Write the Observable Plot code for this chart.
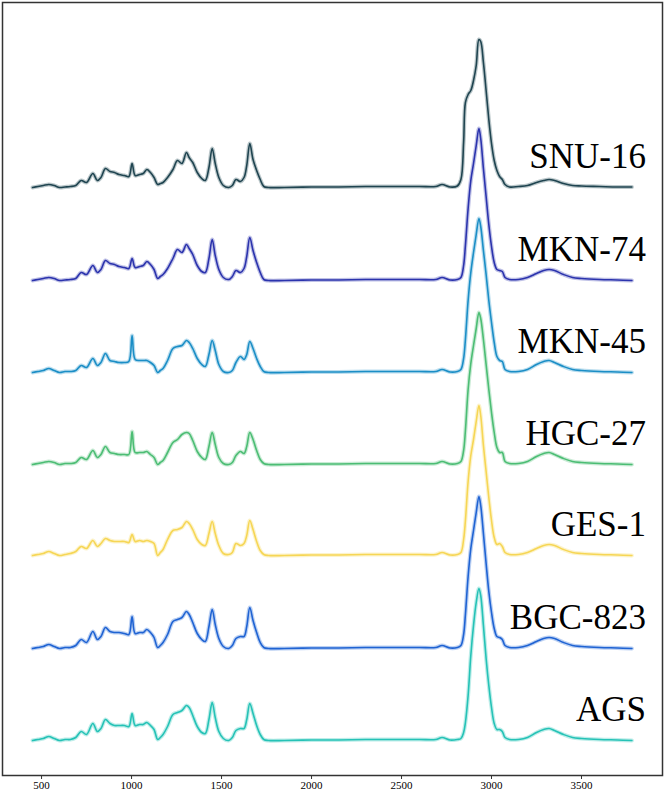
<!DOCTYPE html>
<html>
<head>
<meta charset="utf-8">
<script src="https://cdn.jsdelivr.net/npm/d3@7"></script>
<script src="https://cdn.jsdelivr.net/npm/@observablehq/plot@0.6"></script>
<style>
  html, body { margin: 0; padding: 0; background: #fff; }
  #chart svg { display: block; }
</style>
</head>
<body>
<div id="chart"></div>
<script>
// Raman shift grid (cm^-1)
const wavenumbers = [450,480,510,540,570,600,630,660,690,720,750,785,810,830,855,880,905,930,960,985,1003,1020,1045,1065,1085,1105,1125,1145,1160,1175,1200,1230,1255,1280,1305,1320,1340,1365,1390,1410,1430,1448,1465,1485,1510,1540,1560,1580,1605,1625,1640,1657,1675,1695,1715,1735,1760,1850,2000,2150,2300,2450,2600,2690,2725,2770,2810,2830,2845,2855,2870,2885,2900,2915,2930,2940,2955,2970,2985,3000,3015,3030,3045,3060,3075,3100,3150,3200,3250,3290,3320,3350,3400,3450,3500,3600,3700,3780];

const cellLines = ["SNU-16","MKN-74","MKN-45","HGC-27","GES-1","BGC-823","AGS"];
const colors    = ["#1f4450","#2b33ad","#1b8ec6","#4cbd74","#f6d655","#1f63d3","#25c2b6"];
const offsets   = [553, 460, 368, 276, 185, 92, 0];

const snu16 = [0,1,2,3,2,0,0.5,1,2,7,5,14,7,10,19,16,15,13,12,11,24,12,13,14,18,15,10,3,4,5,10,18,27,24,35,30,25,15,9,7,20,39,24,10,2,0,2,8,6,10,22,44,28,17,8,1,0,0,0.5,0.5,1,1,1,1,3,0.5,1.5,8,45,85,93,97,107,122,148,146,125,97,68,44,27,17,11,8,3,0.5,1,2,5,7,8,7,4,2,1.5,1,0.5,0.5];
const mkn74 = [0,1,2,3,2,0,0.5,1,2,8,6,15,8,11,20,17,16,14,13,12,22,13,14,15,19,16,11,2,4,6,12,22,31,28,36,32,26,15,9,8,22,41,25,11,3,1,4,10,8,12,24,43,30,18,8,1,0,0,0.5,0.5,1,1,1,1,3,0.5,1,3,15,35,72,100,117,135,152,142,112,84,56,34,18,11,10,9,3,1,1,3,7,10,11,10,6,3,2,1,0.5,0];
const mkn45 = [0,1,2,4,2,0,1,1,2,7,5,14,7,10,19,12,11,10,10,11,37,13,12,12,12,10,7,0,2,4,12,24,26,27,32,30,24,14,8,6,18,32,22,8,1,0,2,10,16,13,18,31,24,14,6,1,0,0,0.5,0.5,1,1,1,1,3,0.5,1,3,14,33,72,100,120,138,154,146,122,98,72,50,30,16,12,11,3,1,1,3,8,11,12,10,6,3,2,1,0.5,0];
const hgc27 = [0,1,2,3,2,0,1,1,2,7,5,14,7,10,18,12,11,10,10,10,33,12,12,12,13,10,7,0,2,4,12,22,25,30,32,31,24,13,7,5,18,32,20,7,1,0,2,9,13,11,18,32,25,14,5,1,0,0,0.5,0.5,1,1,1,1,3,0.5,1,3,14,34,75,101,119,136,152,146,125,100,75,52,32,17,12,12,3,1,1,3,8,11,12,10,6,3,2,1,0.5,0];
const ges1  = [0,1,2,4,2,0,1,2,4,9,7,15,9,12,17,15,14,14,14,13,21,14,15,14,15,14,12,0,3,6,16,25,26,28,34,32,26,16,11,10,22,34,22,10,2,1,3,12,10,12,20,35,26,14,5,1,0,0,0.5,0.5,1,1,1,1,3,0.5,1,3,16,35,74,100,116,134,150,140,110,84,58,35,18,11,12,9,3,1,1,3,7,10,11,10,6,3,2,1,0.5,0];
const bgc823= [0,1,2,4,2,0,1,1,3,9,6,17,9,12,21,17,16,16,15,14,32,15,16,16,19,16,11,1,3,6,14,27,29,31,37,34,26,15,9,7,22,39,24,10,2,0,3,10,12,12,22,41,28,16,6,1,0,0,0.5,0.5,1,1,1,1,3,0.5,1,3,14,34,72,100,118,136,152,143,115,85,57,36,20,12,11,9,3,1,1,3,7,10,11,10,6,3,2,1,0.5,0];
const ags   = [0,1,2,4,2,0,1,1,3,9,6,17,9,12,21,17,15,15,15,14,27,15,16,16,18,15,11,1,3,6,14,26,28,30,35,33,25,14,8,7,21,38,23,9,2,0,3,10,12,12,21,37,27,15,6,1,0,0,0.5,0.5,1,1,1,1,3,0.5,1,2,8,18,45,85,115,138,152,145,115,82,55,33,17,11,11,9,3,1,1,3,8,11,12,10,6,3,2,1,0.5,0];

const tickValues = [500,1000,1500,2000,2500,3000,3500];

const series = [snu16, mkn74, mkn45, hgc27, ges1, bgc823, ags];
const rows = [];
series.forEach((vals, i) => {
  vals.forEach((v, j) => rows.push({name: cellLines[i], w: wavenumbers[j], y: v + offsets[i]}));
});
const labels = cellLines.map((n, i) => ({name: n, w: 3858, y: offsets[i] + 20}));

const plot = Plot.plot({
  width: 665,
  height: 797,
  marginLeft: 2,
  marginRight: 3,
  marginTop: 2,
  marginBottom: 22,
  style: {background: "#fff", fontFamily: "'Liberation Serif', 'DejaVu Serif', serif"},
  x: {domain: [283, 3950], label: null},
  y: {domain: [-35, 738], axis: null},
  color: {domain: cellLines, range: colors},
  marks: [
    Plot.line(rows, {x: "w", y: "y", z: "name", stroke: "name", strokeWidth: 4, strokeOpacity: 0.3, curve: "catmull-rom"}),
    Plot.line(rows, {x: "w", y: "y", z: "name", stroke: "name", strokeWidth: 1.6, curve: "catmull-rom"}),
    Plot.text(labels, {x: "w", y: "y", text: "name", textAnchor: "end", lineAnchor: "bottom", fontSize: 35, fill: "#000"}),
    Plot.frame({stroke: "#333", strokeWidth: 1.5}),
    Plot.axisX({ticks: tickValues, tickFormat: d => String(d), tickSize: 4, tickPadding: 2, fontSize: 11, stroke: "#333", label: null})
  ]
});
document.getElementById("chart").appendChild(plot);
</script>
</body>
</html>
